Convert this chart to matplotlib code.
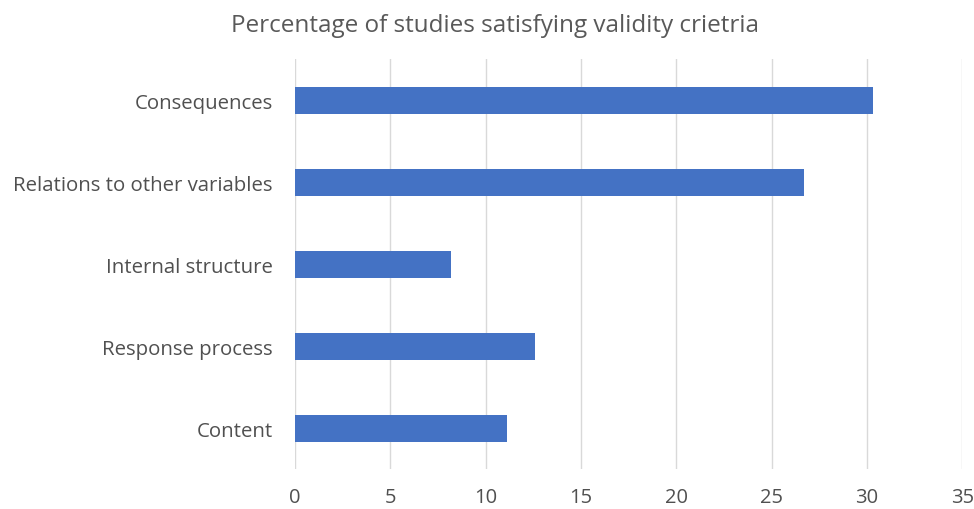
import matplotlib
matplotlib.use('Agg')
import matplotlib.pyplot as plt

categories = ['Content', 'Response process', 'Internal structure',
              'Relations to other variables', 'Consequences']
values = [11.1, 12.6, 8.2, 26.7, 30.3]
xticks = [0, 5, 10, 15, 20, 25, 30, 35]

plt.rcParams['font.family'] = ['Open Sans', 'DejaVu Sans']
text_col = '#505050'

fig = plt.figure(figsize=(9.74, 5.10), dpi=100)
ax = fig.add_axes([0.303, 0.078, 0.685, 0.804])

ax.barh(range(len(categories)), values, height=0.33, color='#4472C4', zorder=3)
ax.set_xlim(0, 35)
ax.set_ylim(-0.5, 4.5)
ax.set_xticks(xticks)
ax.set_xticklabels([str(t) for t in xticks], fontsize=14.5, color=text_col)
ax.set_yticks(range(len(categories)))
ax.set_yticklabels(categories, fontsize=14.7, color=text_col)
ax.tick_params(axis='y', length=0, pad=16)
ax.tick_params(axis='x', length=0, pad=13)
ax.grid(True, axis='x', color='#D9D9D9', linewidth=1, zorder=0)
for s in ax.spines.values():
    s.set_visible(False)

fig.text(0.508, 0.95, 'Percentage of studies satisfying validity crietria',
         ha='center', va='center', fontsize=17.5, color='#595959')

fig.savefig('out.png', dpi=100)
